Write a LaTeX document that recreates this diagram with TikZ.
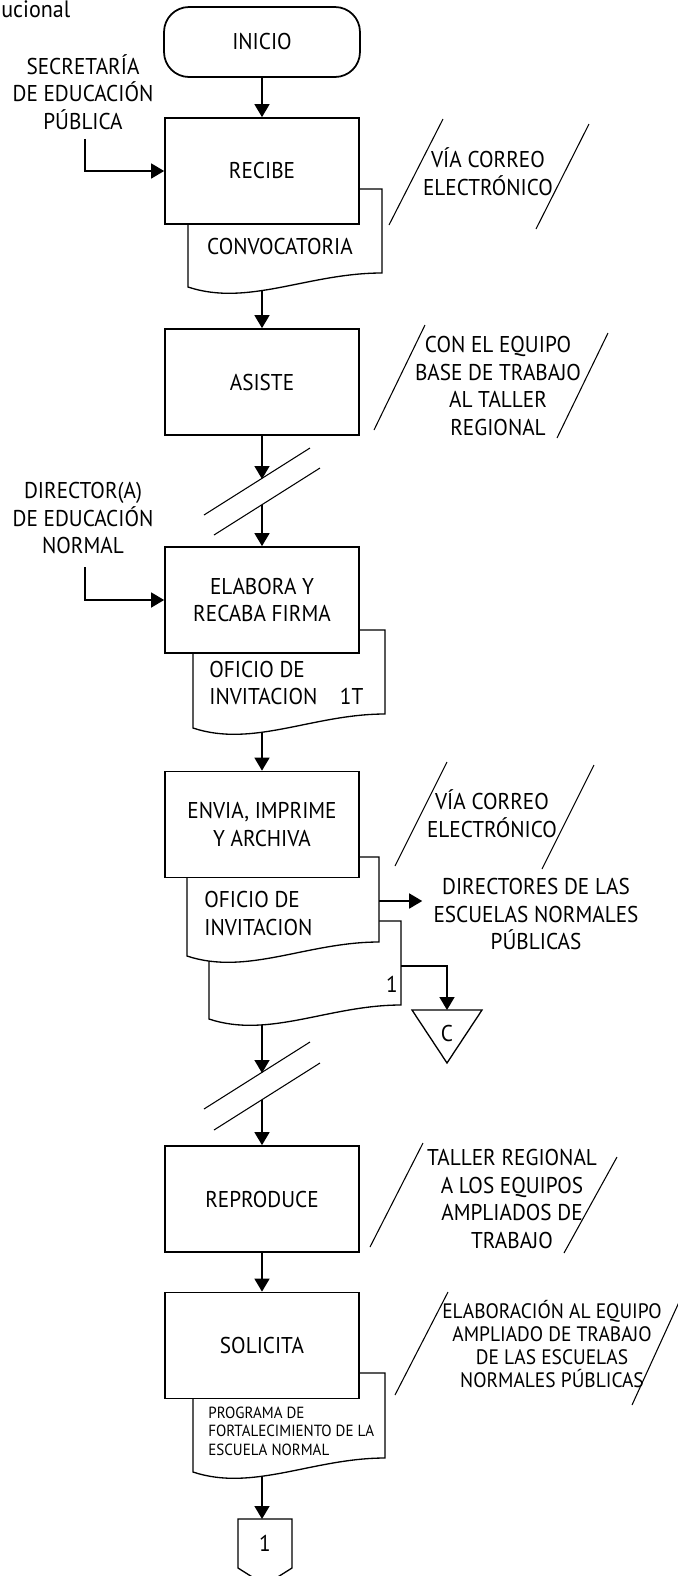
\documentclass[tikz,border=0pt]{standalone}
\usepackage{fontspec}
\setmainfont{PT Sans}[FakeStretch=0.93]
\usetikzlibrary{arrows.meta}
\newcommand{\txt}{\fontsize{13pt}{15.6pt}\selectfont}
\newcommand{\smalltxt}{\fontsize{11.9pt}{13.2pt}\selectfont}
\newcommand{\tinytxt}{\fontsize{9.2pt}{10.6pt}\selectfont}
\begin{document}
\begin{tikzpicture}[x=0.02cm,y=-0.02cm,>={Triangle[length=0.26cm,width=0.3cm]},
	every node/.style={font=\txt,inner sep=0pt},
	box/.style={draw,line width=1pt,fill=white,minimum width=3.88cm,minimum height=2.12cm,align=center},
	doc/.style={draw,line width=0.75pt,fill=white},
	flow/.style={->,line width=0.9pt},
	slant/.style={line width=0.6pt},
	note/.style={align=center}]
	\useasboundingbox (0,0) rectangle (678,1576);
	\clip (0,0) rectangle (678,1576);
	\node[anchor=base west,font=\fontsize{13.5pt}{16pt}\selectfont] (titulo) at (1,17.5) {ucional};
	% documentos
	\foreach \xl/\yt/\xr/\yb in {188/189/382/287, 193/630/385/728, 209/921/401/1019, 187/857/379/956, 193/1373/385/1472}
		\draw[doc] (\xl,\yt) -- (\xl,\yb) .. controls (\xl+60,\yb+20) and (\xl+120,\yb-14) .. (\xr,\yb-14) -- (\xr,\yt) -- cycle;
	% cajas
	\node[box,rounded corners=0.5cm,minimum width=3.92cm,minimum height=1.4cm] (inicio) at (262,42) {INICIO};
	\node[box] (recibe) at (262,171) {RECIBE};
	\node[box] (asiste) at (262,382) {ASISTE};
	\node[box] (elabora) at (262,600) {ELABORA Y\\RECABA FIRMA};
	\node[box] (envia) at (262,824.5) {ENVIA, IMPRIME\\Y ARCHIVA};
	\node[box] (reproduce) at (262,1199) {REPRODUCE};
	\node[box] (solicita) at (262,1345.5) {SOLICITA};
	% textos
	\node[note] (secretaria) at (83,92) {SECRETARÍA\\DE EDUCACIÓN\\PÚBLICA};
	\node[note] (via1) at (488,171.5) {VÍA CORREO\\ELECTRÓNICO};
	\node (convtxt) at (280,247) {CONVOCATORIA};
	\node[note] (equipo) at (498,386) {CON EL EQUIPO\\BASE DE TRABAJO\\AL TALLER\\REGIONAL};
	\node[note] (director) at (83,518) {DIRECTOR(A)\\DE EDUCACIÓN\\NORMAL};
	\node[align=left,anchor=west] (ofi1txt) at (209,683) {OFICIO DE\\INVITACION\hspace{0.45cm}1T};
	\node[note] (via2) at (492,813.5) {VÍA CORREO\\ELECTRÓNICO};
	\node[align=left,anchor=west] (ofiAtxt) at (204,913.5) {OFICIO DE\\INVITACION};
	\node[note,inner xsep=0.22cm] (directores) at (536,914) {DIRECTORES DE LAS\\ESCUELAS NORMALES\\PÚBLICAS};
	\node (uno) at (392,984) {1};
	\node (conC) at (447,1033) {C};
	\node[note] (taller) at (512,1199) {TALLER REGIONAL\\A LOS EQUIPOS\\AMPLIADOS DE\\TRABAJO};
	\node[note,font=\smalltxt] (elab) at (552,1344) {ELABORACIÓN AL EQUIPO\\AMPLIADO DE TRABAJO\\DE LAS ESCUELAS\\NORMALES PÚBLICAS};
	\node[align=left,anchor=west,font=\tinytxt] (progtxt) at (208,1431) {PROGRAMA DE\\FORTALECIMIENTO DE LA\\ESCUELA NORMAL};
	\node (pag1txt) at (265,1543) {1};
	% puntos de union
	\coordinate (convB) at (262,291);
	\coordinate (ofi1B) at (262,732);
	\coordinate (ofiBB) at (262,1025);
	\coordinate (progB) at (262,1476);
	\coordinate (brk1a) at (262,479);
	\coordinate (brk1b) at (262,505);
	\coordinate (brk2a) at (262,1073);
	\coordinate (brk2b) at (262,1100);
	\coordinate (ofiAr) at (379,901);
	\coordinate (ofiBr) at (401,966);
	\coordinate (conCtop) at (447,1010);
	\coordinate (pag1) at (262,1519);
	% conectores de pagina
	\draw[line width=0.75pt] (conCtop) ++(-35,0) -- ++(70,0) -- ++(-35,53) -- cycle;
	\draw[line width=0.75pt] (pag1) ++(-24,0) -- ++(54,0) -- ++(0,49) -- ++(-27,17) -- ++(-27,-17) -- cycle;
	% cortes
	\foreach \p in {brk1a,brk2a} \draw[slant] (\p) ++(-58,36) -- ++(106,-67);
	\foreach \p in {brk1b,brk2b} \draw[slant] (\p) ++(-48,30) -- ++(106,-67);
	% anotaciones
	\foreach \xa/\ya/\xb/\yb in {443/119/389/225, 589/124/536/229, 425/325/374/430, 608/333/557/438,
		447/762/395/866, 594/765/542/869, 423/1143/370/1247, 617/1157/564/1253, 448/1292/395/1395, 680/1300/632/1405}
		\draw[slant] (\xa,\ya) -- (\xb,\yb);
	% flechas
	\draw[flow] (inicio) -- (recibe);
	\draw[flow] (secretaria.south) ++(2,9) |- (recibe.west);
	\draw[flow] (convB) -- (asiste);
	\draw[flow] (asiste) -- (brk1a);
	\draw[flow] (brk1b) -- (elabora);
	\draw[flow] (director.south) ++(2,13) |- (elabora.west);
	\draw[flow] (ofi1B) -- (envia);
	\draw[flow] (ofiAr) -- (ofiAr -| directores.west);
	\draw[flow] (ofiBr) -| (conCtop);
	\draw[flow] (ofiBB) -- (brk2a);
	\draw[flow] (brk2b) -- (reproduce);
	\draw[flow] (reproduce) -- (solicita);
	\draw[flow] (progB) -- (pag1);
\end{tikzpicture}
\end{document}
